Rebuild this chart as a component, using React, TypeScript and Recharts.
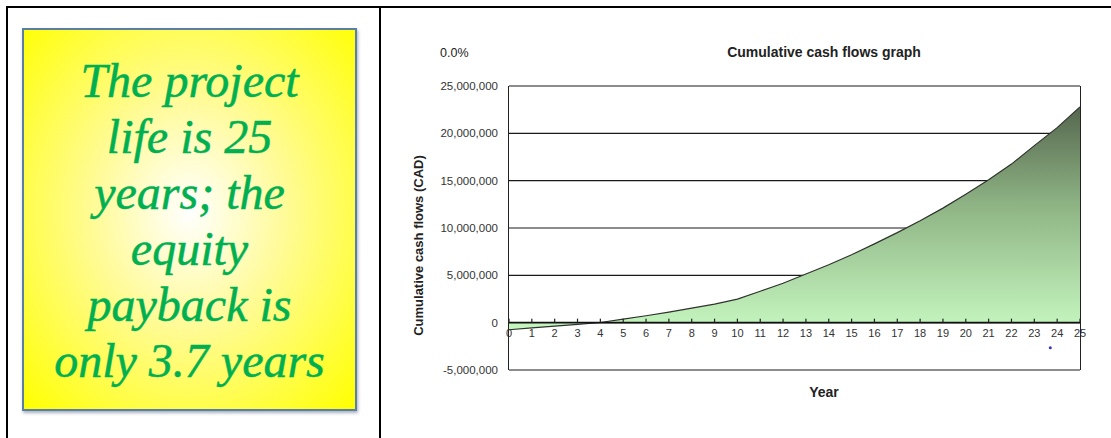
import {
  Area,
  AreaChart,
  CartesianGrid,
  ReferenceDot,
  ReferenceLine,
  XAxis,
  YAxis,
} from "recharts";

// Cumulative cash flow (CAD) at the end of each project year, 0..25.
const years = [
  0, 1, 2, 3, 4, 5, 6, 7, 8, 9, 10, 11, 12, 13, 14, 15, 16, 17, 18, 19, 20,
  21, 22, 23, 24, 25,
];
const cumulativeCash = [
  -750000, -560000, -370000, -180000, 20000, 380000, 730000, 1120000, 1540000,
  1960000, 2480000, 3320000, 4160000, 5140000, 6120000, 7170000, 8320000,
  9510000, 10770000, 12100000, 13570000, 15100000, 16750000, 18700000,
  20600000, 22800000,
];
const yTicks = [-5000000, 0, 5000000, 10000000, 15000000, 20000000, 25000000];
const payback = { year: 23.7, value: -2640000 };

const noteLines = [
  "The project",
  "life is 25",
  "years; the",
  "equity",
  "payback is",
  "only 3.7 years",
];

const CHART_W = 710;
const CHART_H = 400;
const X_AXIS_H = 30;
const Y_AXIS_W = 119;
const MARGIN = { top: 56, right: 20, bottom: 30, left: 0 };
const PLOT_H = CHART_H - MARGIN.top - MARGIN.bottom - X_AXIS_H;
const PLOT_LEFT = MARGIN.left + Y_AXIS_W;
const PLOT_RIGHT = CHART_W - MARGIN.right;
const Y_MIN = yTicks[0];
const Y_MAX = yTicks[yTicks.length - 1];
// distance from the bottom of the plot up to the zero line
const ZERO_UP = (PLOT_H * (0 - Y_MIN)) / (Y_MAX - Y_MIN);

const rows = years.map((year, i) => ({ year, cash: cumulativeCash[i] }));

const FONT = "'Liberation Sans', Arial, sans-serif";

// year labels sit on the zero line rather than at the bottom of the plot
function YearTick(props: any) {
  const { x, y, payload } = props;
  const y0 = y - ZERO_UP;
  return (
    <g>
      <rect x={x - 0.6} y={y0 - 4} width={1.2} height={4} fill="#222" />
      <text
        x={x}
        y={y0 + 14}
        textAnchor="middle"
        fontSize={11}
        fontFamily={FONT}
        fill="#333"
      >
        {payload.value}
      </text>
    </g>
  );
}

const labelStyle = {
  position: "absolute" as const,
  fontFamily: FONT,
  fontWeight: "bold" as const,
  color: "#222",
  whiteSpace: "nowrap" as const,
};

function CashChart() {
  return (
    <div style={{ position: "absolute", left: 390, top: 30 }}>
      <AreaChart width={CHART_W} height={CHART_H} data={rows} margin={MARGIN}>
        <defs>
          <linearGradient id="cashFill" x1="0" y1="0" x2="0" y2="1">
            <stop offset="0%" stopColor="#56674f" />
            <stop offset="45%" stopColor="#8fb585" />
            <stop offset="100%" stopColor="#c6f7c0" />
          </linearGradient>
        </defs>
        <CartesianGrid
          horizontal
          vertical={false}
          stroke="#1a1a1a"
          strokeWidth={1.1}
        />
        <Area
          type="linear"
          dataKey="cash"
          stroke="#2f332d"
          strokeWidth={1.2}
          fill="url(#cashFill)"
          fillOpacity={1}
          dot={false}
          activeDot={false}
          isAnimationActive={false}
        />
        <XAxis
          dataKey="year"
          type="number"
          domain={[0, 25]}
          ticks={years}
          interval={0}
          height={X_AXIS_H}
          axisLine={false}
          tickLine={false}
          tickSize={0}
          tickMargin={0}
          tick={(p: any) => <YearTick {...p} />}
        />
        <YAxis
          domain={[Y_MIN, Y_MAX]}
          ticks={yTicks}
          width={Y_AXIS_W}
          axisLine={false}
          tickLine={false}
          tickMargin={5}
          tick={{ fontSize: 11.5, fill: "#333", fontFamily: FONT }}
          tickFormatter={(v: number) => v.toLocaleString("en-US")}
        />
        <ReferenceLine y={0} stroke="#111" strokeWidth={1.6} />
        <ReferenceDot
          x={payback.year}
          y={payback.value}
          r={1.5}
          fill="#3434c8"
          stroke="none"
        />
      </AreaChart>
      {/* left and right sides of the plot frame */}
      <div
        style={{
          position: "absolute",
          left: PLOT_LEFT - 1,
          top: MARGIN.top,
          width: PLOT_RIGHT - PLOT_LEFT + 2,
          height: PLOT_H,
          boxSizing: "border-box",
          borderLeft: "1.5px solid #222",
          borderRight: "1.5px solid #222",
          pointerEvents: "none",
        }}
      />
      <div
        style={{
          ...labelStyle,
          fontWeight: "normal",
          left: 50,
          top: 16,
          fontSize: 12.5,
        }}
      >
        0.0%
      </div>
      <div
        style={{
          ...labelStyle,
          left: 234,
          width: 400,
          top: 14,
          textAlign: "center",
          fontSize: 14,
        }}
      >
        Cumulative cash flows graph
      </div>
      <div
        style={{
          ...labelStyle,
          left: 234,
          width: 400,
          top: 354,
          textAlign: "center",
          fontSize: 14,
        }}
      >
        Year
      </div>
      <div
        style={{
          ...labelStyle,
          left: 28 - 120,
          top: 217 - 9,
          width: 240,
          textAlign: "center",
          transform: "rotate(-90deg)",
          fontSize: 13,
        }}
      >
        Cumulative cash flows (CAD)
      </div>
    </div>
  );
}

function NoteBox() {
  return (
    <div
      style={{
        position: "absolute",
        left: 22,
        top: 28,
        width: 331,
        height: 379,
        border: "2px solid #5b7ea6",
        boxShadow: "1px 2px 3px rgba(60,80,110,0.45)",
        background:
          "radial-gradient(ellipse at 50% 48%, #ffffff 0%, #fffb9a 40%, #ffff00 100%)",
      }}
    >
      <div
        style={{
          position: "absolute",
          left: 0,
          right: 0,
          top: 23,
          textAlign: "center",
          fontFamily: "'Liberation Serif', 'DejaVu Serif', serif",
          fontStyle: "italic",
          fontSize: 48,
          lineHeight: "56px",
          color: "#00b050",
          WebkitTextStroke: "0.5px #00b050",
          whiteSpace: "nowrap",
        }}
      >
        {noteLines.map((line) => (
          <div key={line}>{line}</div>
        ))}
      </div>
    </div>
  );
}

export default function App() {
  return (
    <div
      style={{
        position: "fixed",
        left: 0,
        top: 0,
        width: 1111,
        height: 438,
        background: "#fff",
        overflow: "hidden",
      }}
    >
      {/* table frame */}
      <div
        style={{
          position: "absolute",
          left: 6,
          top: 6,
          width: 1111,
          height: 2,
          background: "#000",
        }}
      />
      <div
        style={{
          position: "absolute",
          left: 6,
          top: 6,
          width: 2,
          height: 440,
          background: "#000",
        }}
      />
      <div
        style={{
          position: "absolute",
          left: 379,
          top: 6,
          width: 2,
          height: 440,
          background: "#000",
        }}
      />
      <NoteBox />
      <CashChart />
    </div>
  );
}
